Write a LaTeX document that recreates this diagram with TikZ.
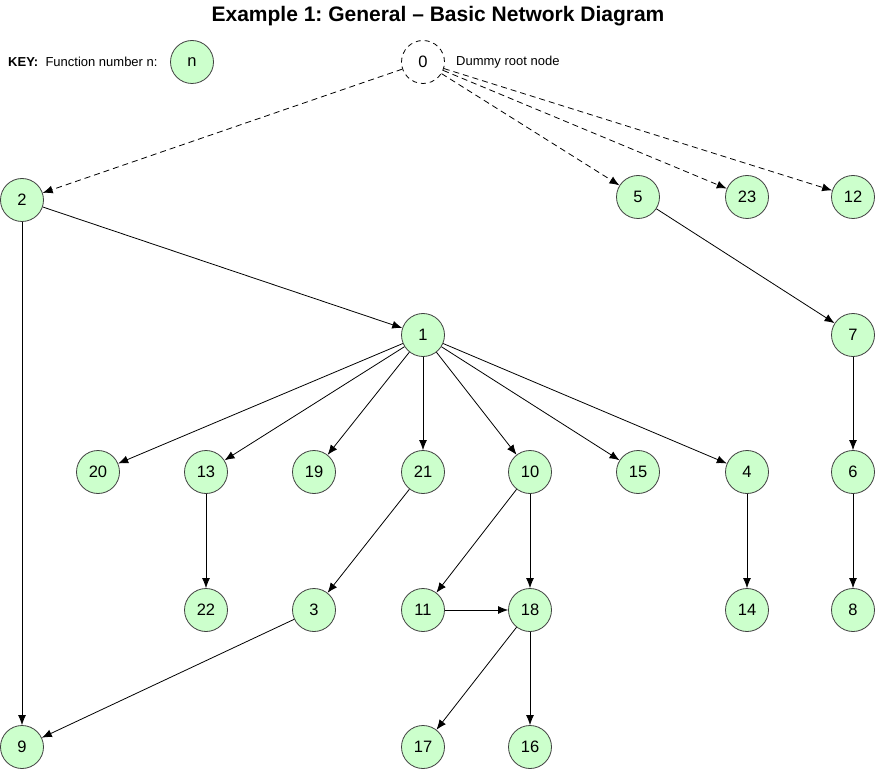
\documentclass[tikz,border=0pt]{standalone}
\usepackage{fontspec}
\setmainfont{Liberation Sans}
\usetikzlibrary{arrows.meta}
\frenchspacing

\definecolor{fnfill}{HTML}{CCFFCC}
\definecolor{fnline}{HTML}{404040}

\tikzset{
  fn/.style={circle, draw=fnline, line width=0.8pt, fill=fnfill, minimum size=43pt, inner sep=0pt, font=\fontsize{16.5}{18}\selectfont},
  dummy/.style={circle, draw=black, line width=0.8pt, dash pattern=on 5pt off 4pt, minimum size=43pt, inner sep=0pt, font=\fontsize{16.5}{18}\selectfont},
  link/.style={-{Latex[length=10pt,width=8pt]}, line width=0.8pt, black},
  dlink/.style={link, dash pattern=on 6pt off 4pt},
  keytext/.style={font=\fontsize{13}{15}\selectfont, anchor=west, inner sep=0pt}
}

\begin{document}
\begin{tikzpicture}[x=1pt, y=-1pt]
		\useasboundingbox (0,0) rectangle (876,770);
		% title and key
		\node[font=\bfseries\fontsize{21}{24}\selectfont] (title) at (438,16) {Example 1: General -- Basic Network Diagram};
		\node[keytext] (keylbl) at (8,62) {\textbf{KEY:}\ \ Function number n:};
		\node[fn] (key) at (192,62) {n};
		\node[dummy] (n0) at (423,62) {0};
		\node[keytext] (dummylbl) at (456,62) {Dummy root node};
		% function nodes
		\def\myNodes{2/22/200, 5/638/197, 23/747/197, 12/853/197, 1/423/335, 7/853/335,
			20/98/472, 13/206/472, 19/314/472, 21/423/472, 10/530/472, 15/638/472, 4/747/472, 6/853/472,
			22/206/610, 3/314/610, 11/423/610, 18/530/610, 14/747/610, 8/853/610,
			9/22/747, 17/423/747, 16/530/747}
		\foreach \n/\x/\y in \myNodes
		\node[fn] (n\n) at (\x,\y) {\n};
		% dummy links
		\foreach \t in {2, 5, 23, 12}
		\draw[dlink] (n0) -- (n\t);
		% links
		\foreach \s/\t in {2/1, 2/9, 5/7, 1/20, 1/13, 1/19, 1/21, 1/10, 1/15, 1/4, 7/6, 6/8,
			13/22, 21/3, 10/11, 10/18, 4/14, 3/9, 11/18, 18/17, 18/16}
		\draw[link] (n\s) -- (n\t);
	\end{tikzpicture}
\end{document}
